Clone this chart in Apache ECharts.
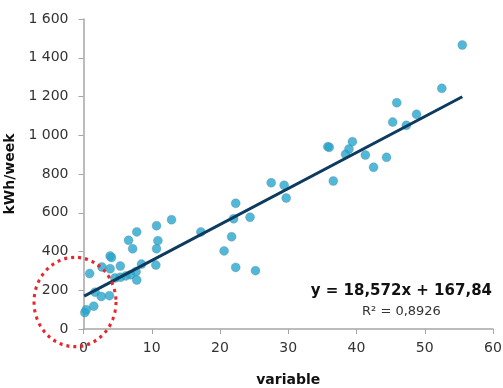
<!DOCTYPE html>
<html>
<head>
<meta charset="utf-8">
<script src="https://cdn.jsdelivr.net/npm/echarts@6/dist/echarts.min.js"></script>
<style>
html,body{margin:0;padding:0;background:#fff;}
#chart{width:503px;height:388px;}
</style>
</head>
<body>
<div id="chart"></div>
<script>
// measured points: variable (x) vs kWh/week (y)
var varX = [0.2, 0.4, 1.5, 1.7, 2.6, 3.8, 0.9, 2.7, 3.9, 5.4, 3.9, 4.1, 4.6, 5.4, 6.2, 6.9, 7.7, 7.8, 8.5,
    6.6, 7.2, 7.8, 10.6, 10.7, 10.9, 10.7, 12.9,
    17.2, 20.6, 21.7, 22.0, 22.3, 22.3, 24.4, 25.2, 27.5, 29.4, 29.7,
    35.8, 36.0, 36.6, 38.4, 38.9, 39.4, 41.3, 42.5, 44.4, 45.3, 45.9, 47.3, 48.8, 52.5, 55.5];
var kwhY = [85, 100, 118, 190, 168, 172, 286, 320, 311, 325, 377, 369, 263, 267, 274, 280, 296, 253, 335,
    458, 414, 501, 330, 414, 456, 533, 564,
    501, 403, 476, 569, 649, 318, 577, 301, 755, 742, 676,
    941, 938, 764, 902, 929, 967, 898, 835, 886, 1068, 1168, 1051, 1108, 1242, 1466];

// linear trend line ends (y = 18,572x + 167,84)
var trendX = [0.1, 55.5];
var trendY = [169.7, 1198.6];

var eqText = 'y = 18,572x + 167,84';
var r2Text = 'R² = 0,8926';

var points = varX.map(function (x, i) { return [x, kwhY[i]]; });
var trend = trendX.map(function (x, i) { return [x, trendY[i]]; });

var font = 'DejaVu Sans';
var myChart = echarts.init(document.getElementById('chart'));

myChart.setOption({
    animation: false,
    grid: { left: 83.5, right: 10, top: 19, bottom: 59, containLabel: false, outerBoundsMode: 'none' },
    xAxis: {
        type: 'value', min: 0, max: 60, interval: 10,
        name: 'variable', nameLocation: 'middle', nameGap: 44,
        nameTextStyle: { fontFamily: font, fontWeight: 'bold', fontSize: 14, color: '#111' },
        axisLine: { lineStyle: { color: '#a6a6a6', width: 1.5 } },
        axisTick: { show: true, length: 5, lineStyle: { color: '#a6a6a6' } },
        axisLabel: { margin: 12, fontFamily: font, fontSize: 14, color: '#333' },
        splitLine: { show: false }
    },
    yAxis: {
        type: 'value', min: 0, max: 1600, interval: 200,
        name: 'kWh/week', nameLocation: 'middle', nameGap: 56,
        nameTextStyle: { fontFamily: font, fontWeight: 'bold', fontSize: 14, color: '#111' },
        axisLine: { show: true, lineStyle: { color: '#a6a6a6', width: 1.5 } },
        axisTick: { show: true, length: 5, lineStyle: { color: '#a6a6a6' } },
        axisLabel: {
            margin: 15, fontFamily: font, fontSize: 14, color: '#333',
            formatter: function (v) { return String(v).replace(/\B(?=(\d{3})+(?!\d))/g, ' '); }
        },
        splitLine: { show: false }
    },
    series: [
        {
            type: 'scatter',
            data: points,
            symbolSize: 9,
            itemStyle: { color: '#27a6cd', borderColor: 'rgba(90,120,140,0.35)', borderWidth: 1 }
        },
        {
            type: 'line',
            data: trend,
            symbol: 'none',
            lineStyle: { color: '#0d3a5e', width: 3 },
            z: 3
        }
    ],
    graphic: [
        {
            type: 'circle',
            x: 75, y: 302,
            scaleY: 1.09,
            shape: { cx: 0, cy: 0, r: 41 },
            style: { fill: 'none', stroke: '#e8262b', lineWidth: 3, lineDash: [3, 4] },
            z: 10
        },
        {
            type: 'text',
            right: 11, top: 284,
            style: { text: eqText, font: 'bold 15px "DejaVu Sans"', fill: '#111' }
        },
        {
            type: 'text',
            left: 362, top: 305,
            style: { text: r2Text, font: '13px "DejaVu Sans"', fill: '#333' }
        }
    ]
});
</script>
</body>
</html>
